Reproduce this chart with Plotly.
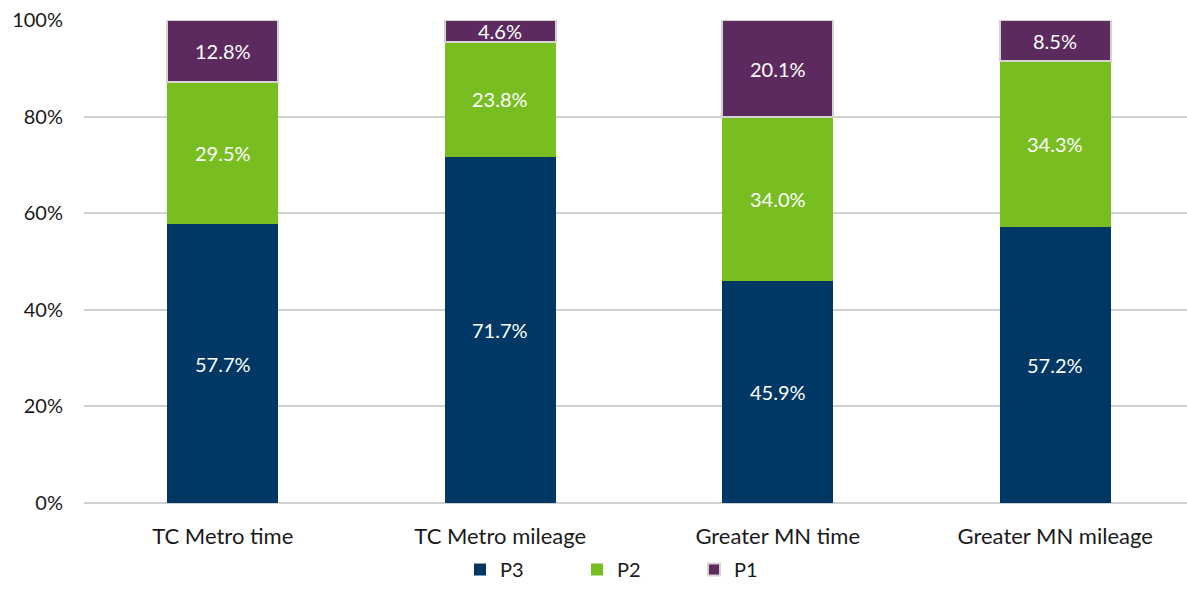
import plotly.graph_objects as go

categories = ["TC Metro time", "TC Metro mileage", "Greater MN time", "Greater MN mileage"]
p3 = [57.7, 71.7, 45.9, 57.2]
p2 = [29.5, 23.8, 34.0, 34.3]
p1 = [12.8, 4.6, 20.1, 8.5]
y_ticks = [0, 20, 40, 60, 80, 100]

FONT = "Lato"
series = [
    ("P3", p3, "#003865", None),
    ("P2", p2, "#78BE21", None),
    ("P1", p1, "#5D2A5F", "#D3D3D3"),
]

fig = go.Figure()
base = [0.0] * len(categories)
annotations = []
for name, vals, color, edge in series:
    fig.add_trace(go.Bar(
        name=name,
        x=categories,
        y=vals,
        width=0.4,
        marker=dict(color=color,
                    line=dict(color=edge or color, width=2 if edge else 0)),
        hoverinfo="y+name",
    ))
    # segment labels sit at the middle of each stacked piece
    for i, v in enumerate(vals):
        annotations.append(dict(
            x=categories[i], y=base[i] + v / 2, xref="x", yref="y",
            text=f"{v:.1f}%", showarrow=False,
            font=dict(family=FONT, size=20, color="white"),
        ))
        base[i] += v

fig.update_layout(
    barmode="stack",
    width=1187,
    height=589,
    margin=dict(l=84, r=0, t=20, b=86, autoexpand=False),
    plot_bgcolor="white",
    paper_bgcolor="white",
    font=dict(family=FONT, size=20, color="#1A1A1A"),
    annotations=annotations,
    legend=dict(orientation="h", x=0.5, xanchor="center", y=-0.011, yref="container",
                yanchor="bottom",
                traceorder="normal", font=dict(size=20),
                entrywidthmode="pixels", entrywidth=72, itemwidth=30),
    showlegend=True,
)
fig.update_xaxes(range=[-0.5, 3.475], showgrid=False, showline=False, ticks="",
                 tickfont=dict(size=22, color="#1A1A1A"), ticklabelstandoff=18)
fig.update_yaxes(range=[0, 100], tickvals=y_ticks, ticktext=[f"{t}%" for t in y_ticks],
                 showgrid=True, gridcolor="#D0D0D0", gridwidth=1.5, zeroline=True,
                 zerolinecolor="#D0D0D0", zerolinewidth=1.5, ticks="",
                 tickfont=dict(size=20, color="#1A1A1A"), ticklabelstandoff=20)

fig.write_html("out.html")
